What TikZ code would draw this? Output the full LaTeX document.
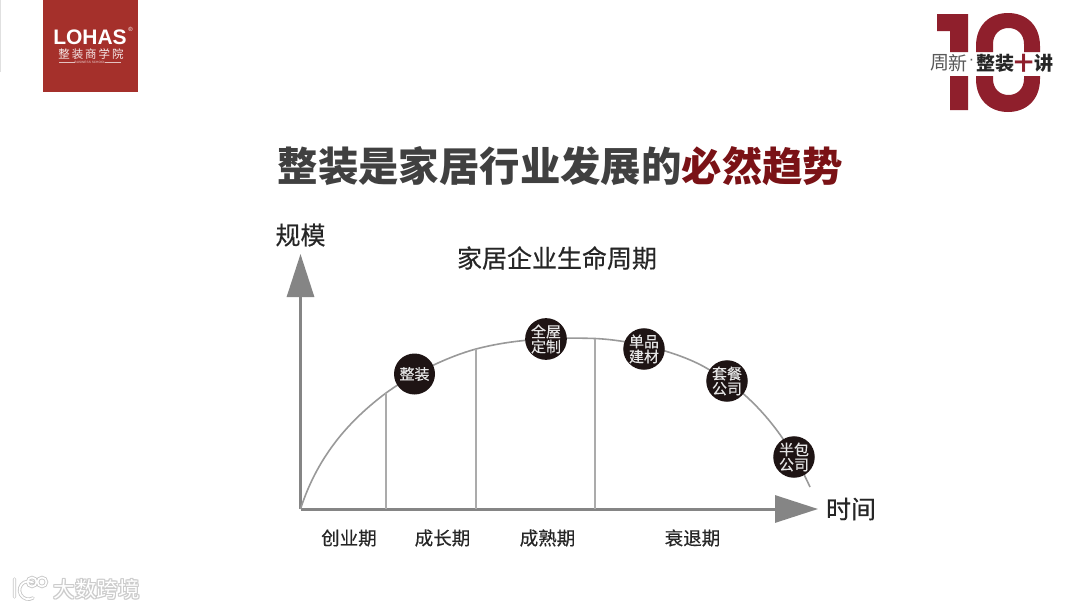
\documentclass[tikz,border=0pt]{standalone}
\usepackage{fontspec}
\setmainfont{Noto Sans CJK SC}
\newfontfamily\medcjk{Noto Sans CJK SC}[FakeBold=0.35]
\newfontfamily\latinb{Liberation Sans}[BoldFont={Liberation Sans Bold}]
\usetikzlibrary{arrows.meta,shapes.geometric}
\definecolor{logored}{HTML}{A5302B}
\definecolor{tenred}{HTML}{8F1F2C}
\definecolor{titlegray}{HTML}{404040}
\definecolor{titlered}{HTML}{7A1216}
\definecolor{axisgray}{HTML}{858585}
\definecolor{curvegray}{HTML}{999999}
\definecolor{divgray}{HTML}{ABABAB}
\definecolor{badge}{HTML}{1E1414}
\tikzset{
  x=1pt,y=-1pt,
  lbl/.style={inner sep=0pt,text=black!85},
  axislabel/.style={lbl,font=\medcjk\fontsize{25}{27}\selectfont},
  phase/.style={lbl,font=\medcjk\fontsize{18.5}{20}\selectfont},
  axisline/.style={draw=axisgray,line width=3pt,-{Triangle[length=43pt,width=27pt]}},
  divider/.style={draw=divgray,line width=1.6pt},
  curveline/.style={draw=curvegray,line width=1.6pt},
  stage/.style={circle,fill=badge,minimum size=41pt,inner sep=0pt,text=white!90!black,align=center,
     font=\medcjk\fontsize{15}{15}\selectfont},
  tenshape/.style={fill=tenred,draw=none},
  tentxt/.style={inner sep=0pt,font=\fontsize{19}{20}\selectfont},
  tenbold/.style={inner sep=0pt,font=\bfseries\fontsize{19}{20}\selectfont},
}
\newcommand{\halotext}[3]{%
  \foreach \dx/\dy in {-1/0,1/0,0/-1,0/1,-1/-1,1/1,-1/1,1/-1}{
    \node[inner sep=0pt,text=black!20,font=\fontsize{21.5}{23}\selectfont] at (#1+\dx,#2+\dy) {#3};}
  \node[inner sep=0pt,text=white,font=\fontsize{21.5}{23}\selectfont] at (#1,#2) {#3};}
\begin{document}
\begin{tikzpicture}
\useasboundingbox (0,0) rectangle (1080,608);
\fill[white] (0,0) rectangle (1080,608);
\fill[black!12] (0,0) rectangle (1.2,72);

% LOHAS logo
\fill[logored] (43,0) rectangle (137.5,92);
\node[inner sep=0pt,text=white,font=\latinb\bfseries\fontsize{21}{21}\selectfont] (lohas) at (90,37) {LOHAS};
\node[inner sep=0pt,text=white,font=\latinb\fontsize{6}{6}\selectfont] (reg) at (130.5,29.5) {®};
\node[inner sep=0pt,text=white!90!logored,font=\fontsize{11.5}{11.5}\selectfont] (school) at (91,54.5) {整\,装\,商\,学\,院};
\node[inner sep=0pt,text=white!80!logored,font=\latinb\fontsize{3.2}{3.2}\selectfont] (bs) at (90,62.5) {BUSINESS SCHOOL};
\draw[white!70!logored,line width=.4pt] (59,62.5) -- (bs.west) (bs.east) -- (121,62.5);

% 10 mark
\begin{scope}
  \clip (930,0) rectangle (1060,52) (930,76) rectangle (1060,120);
  \fill[tenshape] (937,14) -- (968,14) -- (968,110) -- (950,110) -- (950,31) -- (937,31) -- cycle;
  \fill[tenshape,even odd rule]
     (976,46) .. controls (976,25) and (990,13) .. (1008,13)
     .. controls (1026,13) and (1040,25) .. (1040,46)
     -- (1040,79) .. controls (1040,100) and (1026,112) .. (1008,112)
     .. controls (990,112) and (976,100) .. (976,79) -- cycle
     (993,44) .. controls (993,34) and (1000,28) .. (1008.5,28)
     .. controls (1017,28) and (1024,34) .. (1024,44)
     -- (1024,79) .. controls (1024,89) and (1017,95) .. (1008.5,95)
     .. controls (1000,95) and (993,89) .. (993,79) -- cycle;
\end{scope}
\node[tentxt,text=black!65] (t1) at (939.5,63) {周};
\node[tentxt,text=black!65] (t2) at (957.5,63) {新};
\node[inner sep=0pt,text=black!65,font=\latinb\fontsize{16}{16}\selectfont] (t3) at (971.5,62) {·};
\node[tenbold,text=black!85] (t4) at (986,63) {整};
\node[tenbold,text=black!85] (t5) at (1005,63) {装};
\node[tenbold,text=tenred] (t6) at (1024,63) {十};
\node[tenbold,text=black!85] (t7) at (1044,63) {讲};

% title
\node[inner sep=0pt,font=\bfseries\fontsize{40.4}{44}\selectfont,text=titlegray] (title) at (560.5,166)
  {整装是家居行业发展的\textcolor{titlered}{必然趋势}};

% labels
\node[axislabel] (ylab) at (300.5,235) {规模};
\node[axislabel] (xlab) at (851,509) {时间};
\node[lbl,font=\medcjk\fontsize{25}{27}\selectfont] (sub) at (557,258) {家居企业生命周期};

% axes
\coordinate (O) at (300.5,509);
\coordinate (ytip) at (300.5,254);
\coordinate (xtip) at (818,509);
\draw[axisline] (O) -- (ytip);
\draw[axisline] (O) -- (xtip);

% curve
\coordinate (c1) at (386,393);
\coordinate (c2) at (476,349);
\coordinate (c3) at (595,338.5);
\coordinate (c4) at (708,369);
\coordinate (cend) at (810,487);
\draw[curveline] (O) .. controls (318,455) and (350,420) .. (c1)
  .. controls (415,372) and (450,356) .. (c2)
  .. controls (510,340) and (550,337) .. (c3)
  .. controls (630,340) and (680,352) .. (c4)
  .. controls (750,392) and (785,432) .. (cend);

% dividers
\coordinate (b1) at (386,509);
\coordinate (b2) at (476,509);
\coordinate (b3) at (595,509);
\draw[divider] (c1) -- (b1);
\draw[divider] (c2) -- (b2);
\draw[divider] (c3) -- (b3);

% stages
\node[stage] (s1) at (414.5,374) {整装};
\node[stage] (s2) at (546,339) {全屋\\定制};
\node[stage] (s3) at (644,349) {单品\\建材};
\node[stage] (s4) at (727,381) {套餐\\公司};
\node[stage] (s5) at (794,457) {半包\\公司};

% phases
\node[phase] (p1) at (349,538) {创业期};
\node[phase] (p2) at (442.5,538) {成长期};
\node[phase] (p3) at (547.5,538) {成熟期};
\node[phase] (p4) at (692.5,538) {衰退期};

% watermark
\draw[black!22,line width=3.4pt,line cap=round]
   (14.5,579) -- (14.5,597)
   (33,598) arc[start angle=60,end angle=300,radius=9]
   (32,582) circle[radius=4.5] (42,582) circle[radius=4.5];
\draw[white,line width=1.7pt,line cap=round]
   (14.5,579) -- (14.5,597)
   (33,598) arc[start angle=60,end angle=300,radius=9]
   (32,582) circle[radius=4.5] (42,582) circle[radius=4.5];
\halotext{96.5}{589}{大数跨境}
\end{tikzpicture}
\end{document}
